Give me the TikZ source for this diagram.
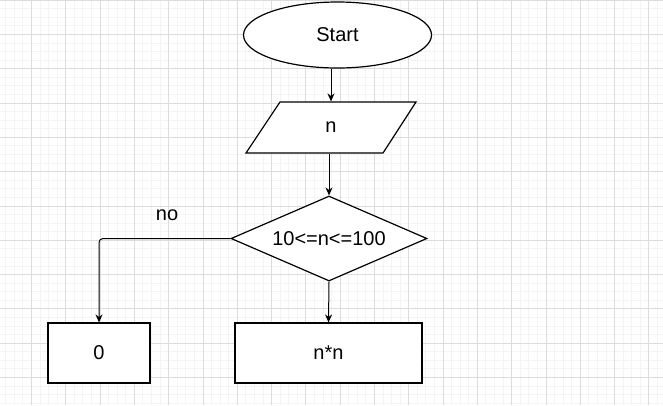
\documentclass[tikz,border=0pt]{standalone}
\usepackage{fontspec}
\setmainfont{Liberation Sans}
\usetikzlibrary{shapes.geometric,arrows.meta}
\definecolor{gridminor}{HTML}{F4F4F4}
\definecolor{gridmajor}{HTML}{DCDCDC}
\tikzset{
  box/.style={draw, line width=1.2pt, inner sep=0pt, font=\fontsize{20}{24}\selectfont},
  arr/.style={-{Stealth[length=8pt,width=7pt]}, line width=1pt},
}
\begin{document}
\begin{tikzpicture}[x=1pt, y=-1pt]
                \useasboundingbox (0,0) rectangle (663,405);
                \fill[white] (0,0) rectangle (663,405);
                % grid
                \foreach \i in {0,...,78}
                    \draw[gridminor, line width=0.6pt] ({-3+8.575*\i},0) -- ({-3+8.575*\i},405);
                \foreach \j in {0,...,48}
                    \draw[gridminor, line width=0.6pt] (0,{8.575*\j}) -- (663,{8.575*\j});
                \foreach \i in {0,...,19}
                    \draw[gridmajor, line width=0.6pt] ({-3+34.3*\i},0) -- ({-3+34.3*\i},405);
                \foreach \j in {0,...,12}
                    \draw[gridmajor, line width=0.6pt] (0,{34.3*\j}) -- (663,{34.3*\j});
                % shapes
                \node[box, ellipse, fill=white, minimum width=188pt, minimum height=66pt] (start) at (337.5,35) {Start};
                \draw[line width=1.2pt, fill=white] (280,102) -- (416,102) -- (383,153) -- (246,153) -- cycle;
                \node[box, draw=none, minimum width=100pt, minimum height=51pt] (inp) at (331,127.5) {n};
                \node[box, diamond, aspect=2.3, fill=white, minimum width=196pt, minimum height=85pt] (cond) at (329,238.5) {10<=n<=100};
                \node[box, rectangle, fill=white, minimum width=102pt, minimum height=60pt] (zero) at (99,353) {0};
                \node[box, rectangle, fill=white, minimum width=187pt, minimum height=60pt] (sq) at (328.5,353) {n*n};
                % connectors
                \draw[arr] (inp.north |- start.south) -- (inp.north);
                \draw[arr] (cond.north |- inp.south) -- (cond.north);
                \draw[arr, rounded corners=4pt] (cond.west) -| (zero.north);
                \draw[arr] (cond.south) -- (sq.north);
                \node[font=\fontsize{20}{24}\selectfont] (no) at (167,215) {no};
            \end{tikzpicture}
\end{document}
